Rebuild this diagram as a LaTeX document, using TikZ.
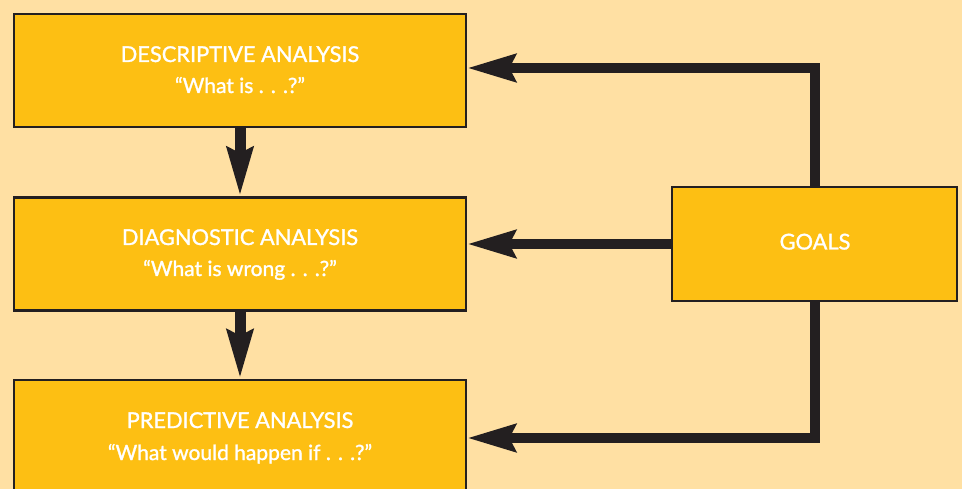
\documentclass[tikz,border=0pt]{standalone}
\usepackage{fontspec}
\setmainfont{Lato}
\newfontfamily\labfont{Lato}[FakeBold=1.3]
\usetikzlibrary{arrows.meta}
\definecolor{bg}{HTML}{FFE0A3}
\definecolor{boxfill}{HTML}{FDBF13}
\definecolor{ink}{HTML}{231F20}
\begin{document}
\begin{tikzpicture}[x=1pt,y=-1pt,
  box/.style={draw=ink, line width=2.5pt, fill=boxfill, minimum width=452pt, minimum height=113pt, inner sep=0pt},
  conn/.style={draw=ink, line width=10pt, line join=miter, -{Stealth[length=48pt,width=27pt,inset=6pt]}},
  vconn/.style={draw=ink, line width=11pt, -{Stealth[length=48pt,width=25pt,inset=5pt]}},
  title/.style={text=white, anchor=base, font=\labfont\fontsize{21.8}{26}\selectfont},
  sub/.style={text=white, anchor=base, font=\labfont\fontsize{21}{23}\selectfont}]
\fill[bg] (0,0) rectangle (962,489);
\useasboundingbox (0,0) rectangle (962,489);
\clip (0,0) rectangle (962,489);
\node[box] (desc) at (240,70.5) {};
\node[box] (diag) at (240,254) {};
\node[box] (pred) at (240,436.5) {};
\node[box, minimum width=285pt, minimum height=114pt] (goals) at (814.5,244) {};
\node[title] (t1) at (240,62) {DESCRIPTIVE ANALYSIS};
\node[sub] (s1) at (240,93) {“What is . . .?”};
\node[title] (t2) at (240,245) {DIAGNOSTIC ANALYSIS};
\node[sub] (s2) at (240,276) {“What is wrong . . .?”};
\node[title] (t3) at (240,428) {PREDICTIVE ANALYSIS};
\node[sub] (s3) at (240,460) {“What would happen if . . .?”};
\node[title] (tg) at (815,249.5) {GOALS};
\draw[conn] (goals.north) |- ([yshift=2.5pt]desc.east);
\draw[conn] (goals.west) -- (goals.west -| diag.east);
\draw[conn] (goals.south) |- ([yshift=-1.5pt]pred.east);
\draw[vconn] (desc.south) -- (diag.north);
\draw[vconn] (diag.south) -- (pred.north);
\end{tikzpicture}
\end{document}
